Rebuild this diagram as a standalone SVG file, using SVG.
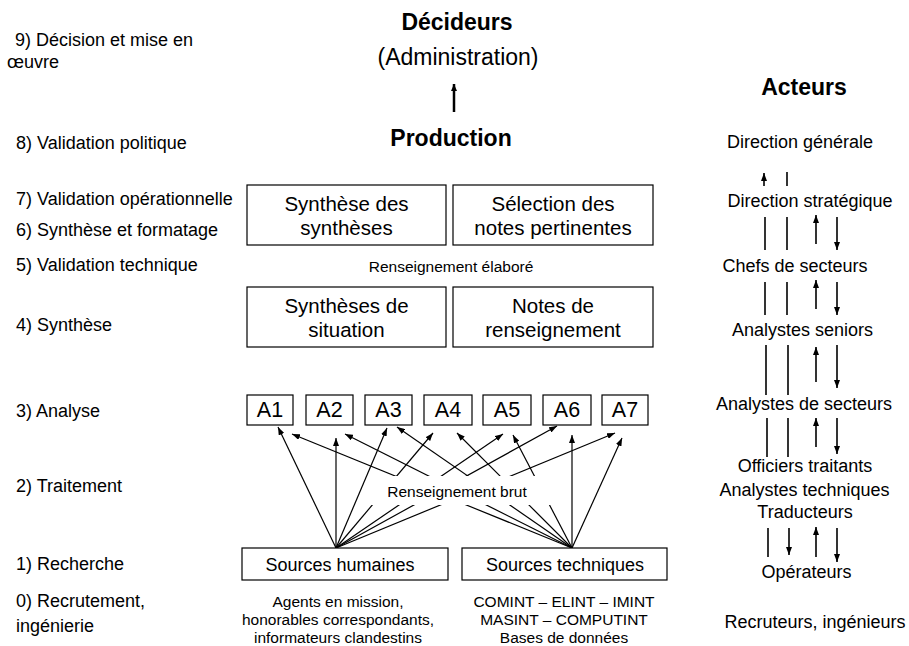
<svg xmlns="http://www.w3.org/2000/svg" width="909" height="646" viewBox="0 0 909 646">
<defs>
<style>
text{font-family:"Liberation Sans",Arial,sans-serif;fill:#000}
.lbl{font-size:18px}
.box{fill:#fff;stroke:#000;stroke-width:1.2}
.bt{font-size:20.5px;text-anchor:middle}
.at{font-size:21.5px;text-anchor:middle}
.sm{font-size:15.5px;text-anchor:middle}
.rc{font-size:18px;text-anchor:middle}
.hd{font-size:23px;font-weight:bold;text-anchor:middle}
.ln{stroke:#000;stroke-width:1.2;fill:none}
.vl{stroke:#000;stroke-width:1.6;fill:none}
.ar{marker-end:url(#ah)}
</style>
<marker id="ah" viewBox="0 0 8 6" refX="8" refY="3" markerWidth="8" markerHeight="6" markerUnits="userSpaceOnUse" orient="auto"><path d="M0,0 L8,3 L0,6 z" fill="#000"/></marker>
<marker id="ah2" viewBox="0 0 7 6" refX="7" refY="3" markerWidth="7" markerHeight="6" markerUnits="userSpaceOnUse" orient="auto"><path d="M0,0 L7,3 L0,6 z" fill="#000"/></marker>
</defs>
<rect width="909" height="646" fill="#fff"/>

<g id="steps">
<text class="lbl" x="15" y="46">9) Décision et mise en</text>
<text class="lbl" x="7" y="68">œuvre</text>
<text class="lbl" x="16" y="149">8) Validation politique</text>
<text class="lbl" x="16" y="205">7) Validation opérationnelle</text>
<text class="lbl" x="16" y="236">6) Synthèse et formatage</text>
<text class="lbl" x="16" y="271">5) Validation technique</text>
<text class="lbl" x="16" y="331">4) Synthèse</text>
<text class="lbl" x="16" y="417">3) Analyse</text>
<text class="lbl" x="16" y="492">2) Traitement</text>
<text class="lbl" x="16" y="570">1) Recherche</text>
<text class="lbl" x="16" y="607">0) Recrutement,</text>
<text class="lbl" x="16" y="632">ingénierie</text>
</g>

<g id="decideurs">
<text class="hd" x="457" y="30">Décideurs</text>
<text x="458" y="65" style="font-size:23px;text-anchor:middle">(Administration)</text>
</g>
<g id="production">
<text class="hd" x="451" y="146">Production</text>
</g>

<g id="connectors">
<line x1="454" y1="112" x2="454" y2="84" stroke="#000" stroke-width="2.5" marker-end="url(#ah2)"/>
<g class="ln ar">
<line x1="336" y1="548" x2="278" y2="427"/>
<line x1="336" y1="548" x2="336" y2="438"/>
<line x1="336" y1="548" x2="387" y2="428"/>
<line x1="336" y1="548" x2="433" y2="433"/>
<line x1="336" y1="548" x2="503" y2="434"/>
<line x1="336" y1="548" x2="557" y2="426"/>
<line x1="336" y1="548" x2="615" y2="433"/>
<line x1="572" y1="548" x2="292" y2="434"/>
<line x1="572" y1="548" x2="345" y2="434"/>
<line x1="572" y1="548" x2="397" y2="427"/>
<line x1="572" y1="548" x2="457" y2="433"/>
<line x1="572" y1="548" x2="513" y2="435"/>
<line x1="572" y1="548" x2="572" y2="435"/>
<line x1="572" y1="548" x2="622" y2="438"/>
</g>
<g class="vl">
<line x1="764" y1="186" x2="764" y2="173" marker-end="url(#ah)"/>
<line x1="787" y1="172" x2="787" y2="186"/>
<line x1="765" y1="217" x2="765" y2="250"/>
<line x1="787" y1="217" x2="787" y2="250"/>
<line x1="816" y1="244" x2="816" y2="215" marker-end="url(#ah)"/>
<line x1="837" y1="217" x2="837" y2="250" marker-end="url(#ah)"/>
<line x1="765" y1="282" x2="765" y2="315"/>
<line x1="787" y1="282" x2="787" y2="315"/>
<line x1="816" y1="309" x2="816" y2="280" marker-end="url(#ah)"/>
<line x1="837" y1="282" x2="837" y2="315" marker-end="url(#ah)"/>
<line x1="766" y1="345" x2="766" y2="395"/>
<line x1="788" y1="345" x2="788" y2="395"/>
<line x1="816" y1="382" x2="816" y2="347" marker-end="url(#ah)"/>
<line x1="837" y1="345" x2="837" y2="388" marker-end="url(#ah)"/>
<line x1="767" y1="418" x2="767" y2="457"/>
<line x1="788" y1="418" x2="788" y2="457"/>
<line x1="816" y1="447" x2="816" y2="418" marker-end="url(#ah)"/>
<line x1="837" y1="418" x2="837" y2="454" marker-end="url(#ah)"/>
<line x1="768" y1="528" x2="768" y2="557"/>
<line x1="789" y1="528" x2="789" y2="555" marker-end="url(#ah)"/>
<line x1="816" y1="557" x2="816" y2="527" marker-end="url(#ah)"/>
<line x1="837" y1="528" x2="837" y2="562" marker-end="url(#ah)"/>
</g>
</g>

<g id="brut">
<rect x="369" y="476" width="184" height="29" fill="#fff"/>
<text class="sm" x="457" y="497">Renseignement brut</text>
</g>

<g id="synthese-syntheses">
<rect class="box" x="247" y="185" width="199" height="60"/>
<text class="bt" x="346.5" y="211">Synthèse des</text>
<text class="bt" x="346.5" y="235">synthèses</text>
</g>
<g id="selection-notes">
<rect class="box" x="453" y="185" width="200" height="60"/>
<text class="bt" x="553" y="211">Sélection des</text>
<text class="bt" x="553" y="235">notes pertinentes</text>
</g>
<g id="elabore">
<text class="sm" x="451" y="272">Renseignement élaboré</text>
</g>
<g id="syntheses-situation">
<rect class="box" x="247" y="287" width="199" height="60"/>
<text class="bt" x="346.5" y="313">Synthèses de</text>
<text class="bt" x="346.5" y="337">situation</text>
</g>
<g id="notes-renseignement">
<rect class="box" x="453" y="287" width="200" height="60"/>
<text class="bt" x="553" y="313">Notes de</text>
<text class="bt" x="553" y="337">renseignement</text>
</g>

<g id="A1"><rect class="box" x="247" y="395" width="46" height="30"/><text class="at" x="270" y="417">A1</text></g>
<g id="A2"><rect class="box" x="306" y="395" width="47" height="30"/><text class="at" x="329.5" y="417">A2</text></g>
<g id="A3"><rect class="box" x="365" y="395" width="47" height="30"/><text class="at" x="388.5" y="417">A3</text></g>
<g id="A4"><rect class="box" x="424" y="395" width="48" height="30"/><text class="at" x="448" y="417">A4</text></g>
<g id="A5"><rect class="box" x="483" y="395" width="48" height="30"/><text class="at" x="507" y="417">A5</text></g>
<g id="A6"><rect class="box" x="543" y="395" width="48" height="30"/><text class="at" x="567" y="417">A6</text></g>
<g id="A7"><rect class="box" x="602" y="395" width="46" height="30"/><text class="at" x="625" y="417">A7</text></g>

<g id="sources-humaines">
<rect class="box" x="242" y="548" width="206" height="32"/>
<text x="340" y="571" style="font-size:18px;text-anchor:middle">Sources humaines</text>
<text class="sm" x="338" y="607">Agents en mission,</text>
<text class="sm" x="338" y="625">honorables correspondants,</text>
<text class="sm" x="338" y="643">informateurs clandestins</text>
</g>
<g id="sources-techniques">
<rect class="box" x="462" y="548" width="205" height="32"/>
<text x="565" y="571" style="font-size:18px;text-anchor:middle">Sources techniques</text>
<text class="sm" x="564" y="607">COMINT – ELINT – IMINT</text>
<text class="sm" x="564" y="625">MASINT – COMPUTINT</text>
<text class="sm" x="564" y="643">Bases de données</text>
</g>

<g id="acteurs">
<text class="hd" x="804" y="95">Acteurs</text>
<text class="rc" x="800" y="148">Direction générale</text>
<text class="rc" x="810" y="207">Direction stratégique</text>
<text class="rc" x="795" y="272">Chefs de secteurs</text>
<text class="rc" x="802.5" y="336">Analystes seniors</text>
<text class="rc" x="804" y="410">Analystes de secteurs</text>
<text class="rc" x="805" y="472">Officiers traitants</text>
<text class="rc" x="804.5" y="496">Analystes techniques</text>
<text class="rc" x="805" y="518">Traducteurs</text>
<text class="rc" x="806.5" y="578">Opérateurs</text>
<text class="rc" x="815" y="628">Recruteurs, ingénieurs</text>
</g>
</svg>
